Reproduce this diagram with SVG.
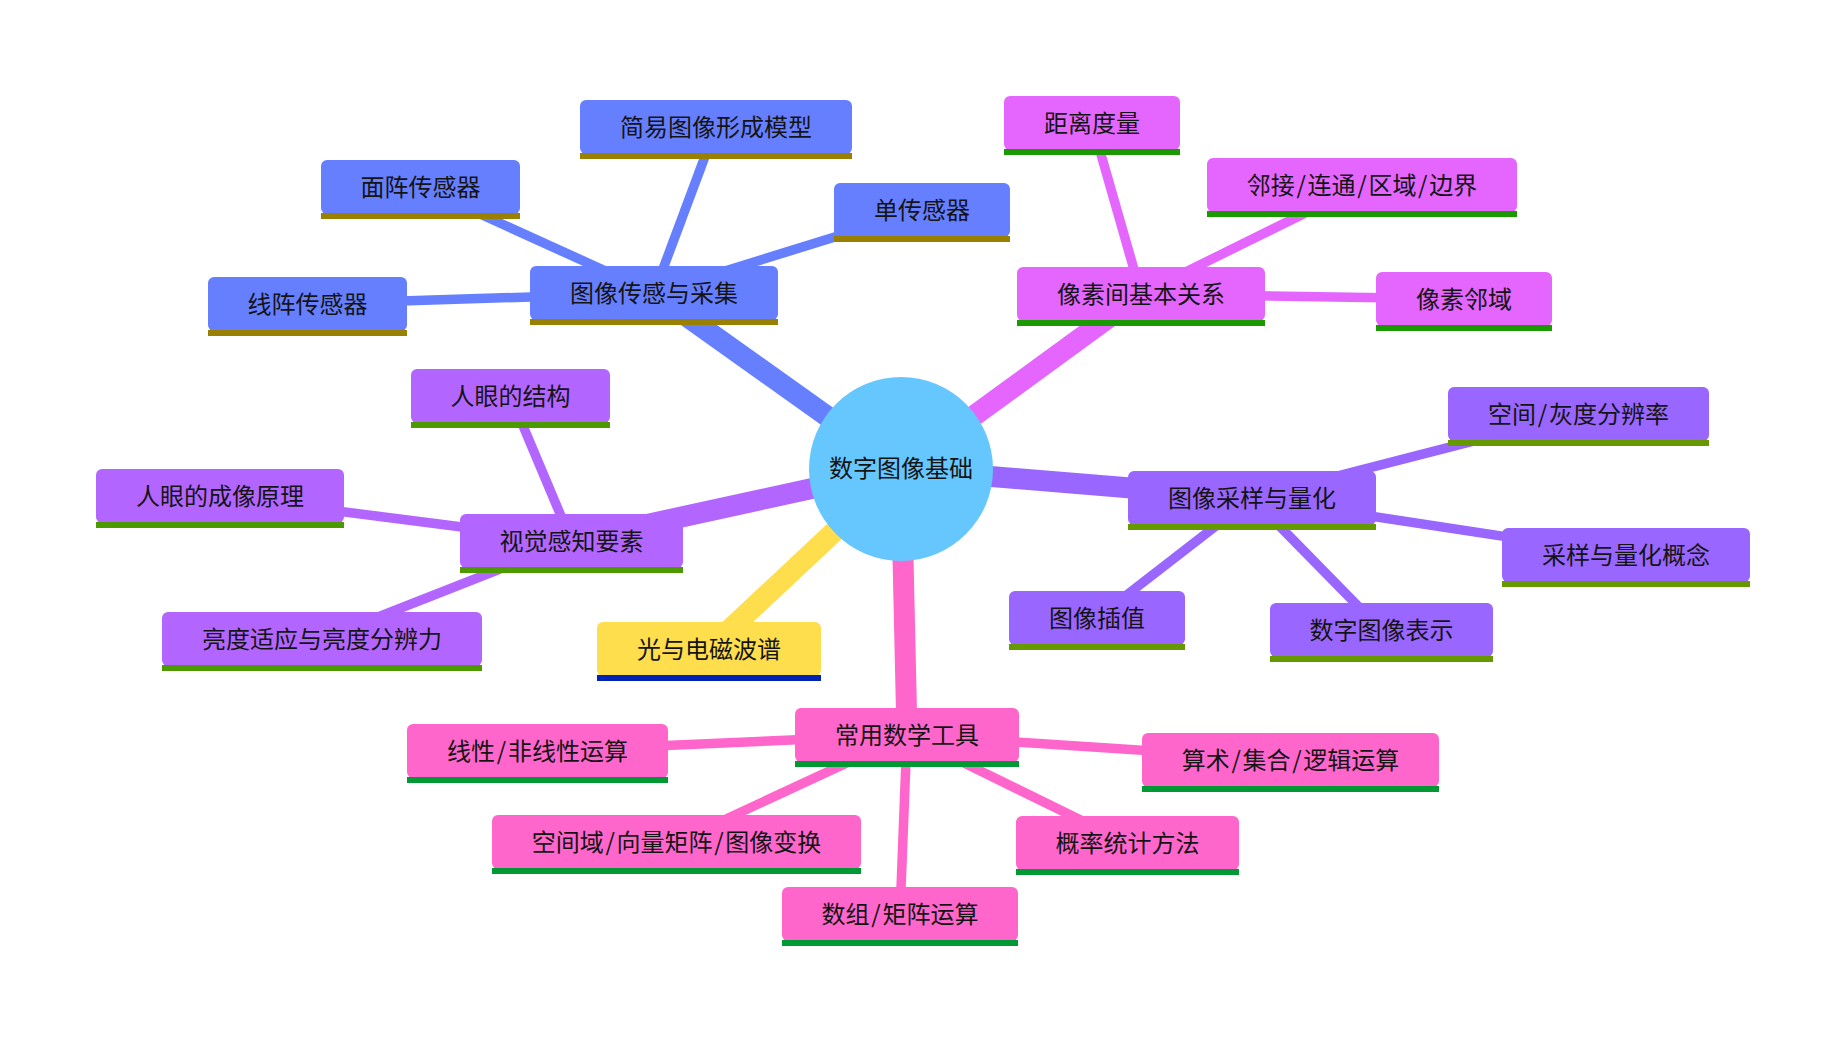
<svg xmlns="http://www.w3.org/2000/svg" width="1845" height="1039" viewBox="0 0 1845 1039">
<style>
text{font-family:"Noto Sans CJK SC","Noto Sans",sans-serif;font-size:24px;fill:#141414;text-anchor:middle;dominant-baseline:central}
.e0{stroke-width:21;stroke-linecap:butt;fill:none}
.e1{stroke-width:9.5;stroke-linecap:butt;fill:none}
.bl{fill:#667fff}.blb{fill:#998000}.bls{stroke:#667fff}
.mg{fill:#e566ff}.mgb{fill:#1a9900}.mgs{stroke:#e566ff}
.pu{fill:#9966ff}.pub{fill:#669900}.pus{stroke:#9966ff}
.vi{fill:#b366ff}.vib{fill:#4c9900}.vis{stroke:#b366ff}
.ye{fill:#ffde4d}.yeb{fill:#0022b2}.yes{stroke:#ffde4d}
.pk{fill:#ff66cc}.pkb{fill:#009933}.pks{stroke:#ff66cc}
</style>
<rect width="1845" height="1039" fill="#ffffff"/>
<g id="connectors">
<line class="e0 bls" x1="901" y1="469" x2="654" y2="293"/>
<line class="e0 mgs" x1="901" y1="469" x2="1141" y2="294"/>
<line class="e0 pus" x1="901" y1="469" x2="1252" y2="498"/>
<line class="e0 vis" x1="901" y1="469" x2="571.5" y2="541"/>
<line class="e0 yes" x1="901" y1="469" x2="709" y2="649"/>
<line class="e0 pks" x1="901" y1="469" x2="907" y2="735"/>
<line class="e1 bls" x1="654" y1="293" x2="716" y2="127"/>
<line class="e1 bls" x1="654" y1="293" x2="420.5" y2="187"/>
<line class="e1 bls" x1="654" y1="293" x2="922" y2="210"/>
<line class="e1 bls" x1="654" y1="293" x2="307.5" y2="304"/>
<line class="e1 mgs" x1="1141" y1="294" x2="1092" y2="123"/>
<line class="e1 mgs" x1="1141" y1="294" x2="1362" y2="185"/>
<line class="e1 mgs" x1="1141" y1="294" x2="1464" y2="299"/>
<line class="e1 pus" x1="1252" y1="498" x2="1578.5" y2="414"/>
<line class="e1 pus" x1="1252" y1="498" x2="1626" y2="555"/>
<line class="e1 pus" x1="1252" y1="498" x2="1097" y2="618"/>
<line class="e1 pus" x1="1252" y1="498" x2="1381.5" y2="630"/>
<line class="e1 vis" x1="571.5" y1="541" x2="510.5" y2="396"/>
<line class="e1 vis" x1="571.5" y1="541" x2="220" y2="496"/>
<line class="e1 vis" x1="571.5" y1="541" x2="322" y2="639"/>
<line class="e1 pks" x1="907" y1="735" x2="537.5" y2="751"/>
<line class="e1 pks" x1="907" y1="735" x2="1290.5" y2="760"/>
<line class="e1 pks" x1="907" y1="735" x2="676.5" y2="842"/>
<line class="e1 pks" x1="907" y1="735" x2="1127.5" y2="843"/>
<line class="e1 pks" x1="907" y1="735" x2="900" y2="914"/>
</g>
<g id="root">
<circle cx="901" cy="469" r="92" fill="#66c7ff"/>
<text x="901" y="466">数字图像基础</text>
</g>
<g id="n-sensing"><rect class="bl" x="530" y="266" width="248" height="54" rx="6"/><rect class="blb" x="530" y="319" width="248" height="6"/><text x="654" y="291">图像传感与采集</text></g>
<g id="n-model"><rect class="bl" x="580" y="100" width="272" height="54" rx="6"/><rect class="blb" x="580" y="153" width="272" height="6"/><text x="716" y="125">简易图像形成模型</text></g>
<g id="n-area"><rect class="bl" x="321" y="160" width="199" height="54" rx="6"/><rect class="blb" x="321" y="213" width="199" height="6"/><text x="420.5" y="185">面阵传感器</text></g>
<g id="n-single"><rect class="bl" x="834" y="183" width="176" height="54" rx="6"/><rect class="blb" x="834" y="236" width="176" height="6"/><text x="922" y="208">单传感器</text></g>
<g id="n-line"><rect class="bl" x="208" y="277" width="199" height="54" rx="6"/><rect class="blb" x="208" y="330" width="199" height="6"/><text x="307.5" y="302">线阵传感器</text></g>
<g id="n-pixel"><rect class="mg" x="1017" y="267" width="248" height="54" rx="6"/><rect class="mgb" x="1017" y="320" width="248" height="6"/><text x="1141" y="292">像素间基本关系</text></g>
<g id="n-dist"><rect class="mg" x="1004" y="96" width="176" height="54" rx="6"/><rect class="mgb" x="1004" y="149" width="176" height="6"/><text x="1092" y="121">距离度量</text></g>
<g id="n-adj"><rect class="mg" x="1207" y="158" width="310" height="54" rx="6"/><rect class="mgb" x="1207" y="211" width="310" height="6"/><text x="1362" y="183">邻接<tspan dx="1.7">/</tspan><tspan dx="1.7">连通</tspan><tspan dx="1.7">/</tspan><tspan dx="1.7">区域</tspan><tspan dx="1.7">/</tspan><tspan dx="1.7">边界</tspan></text></g>
<g id="n-neigh"><rect class="mg" x="1376" y="272" width="176" height="54" rx="6"/><rect class="mgb" x="1376" y="325" width="176" height="6"/><text x="1464" y="297">像素邻域</text></g>
<g id="n-sample"><rect class="pu" x="1128" y="471" width="248" height="54" rx="6"/><rect class="pub" x="1128" y="524" width="248" height="6"/><text x="1252" y="496">图像采样与量化</text></g>
<g id="n-res"><rect class="pu" x="1448" y="387" width="261" height="54" rx="6"/><rect class="pub" x="1448" y="440" width="261" height="6"/><text x="1578.5" y="412">空间<tspan dx="1.7">/</tspan><tspan dx="1.7">灰度分辨率</tspan></text></g>
<g id="n-concept"><rect class="pu" x="1502" y="528" width="248" height="54" rx="6"/><rect class="pub" x="1502" y="581" width="248" height="6"/><text x="1626" y="553">采样与量化概念</text></g>
<g id="n-interp"><rect class="pu" x="1009" y="591" width="176" height="54" rx="6"/><rect class="pub" x="1009" y="644" width="176" height="6"/><text x="1097" y="616">图像插值</text></g>
<g id="n-repr"><rect class="pu" x="1270" y="603" width="223" height="54" rx="6"/><rect class="pub" x="1270" y="656" width="223" height="6"/><text x="1381.5" y="628">数字图像表示</text></g>
<g id="n-visual"><rect class="vi" x="460" y="514" width="223" height="54" rx="6"/><rect class="vib" x="460" y="567" width="223" height="6"/><text x="571.5" y="539">视觉感知要素</text></g>
<g id="n-eye"><rect class="vi" x="411" y="369" width="199" height="54" rx="6"/><rect class="vib" x="411" y="422" width="199" height="6"/><text x="510.5" y="394">人眼的结构</text></g>
<g id="n-imaging"><rect class="vi" x="96" y="469" width="248" height="54" rx="6"/><rect class="vib" x="96" y="522" width="248" height="6"/><text x="220" y="494">人眼的成像原理</text></g>
<g id="n-bright"><rect class="vi" x="162" y="612" width="320" height="54" rx="6"/><rect class="vib" x="162" y="665" width="320" height="6"/><text x="322" y="637">亮度适应与亮度分辨力</text></g>
<g id="n-light"><rect class="ye" x="597" y="622" width="224" height="54" rx="6"/><rect class="yeb" x="597" y="675" width="224" height="6"/><text x="709" y="647">光与电磁波谱</text></g>
<g id="n-math"><rect class="pk" x="795" y="708" width="224" height="54" rx="6"/><rect class="pkb" x="795" y="761" width="224" height="6"/><text x="907" y="733">常用数学工具</text></g>
<g id="n-linear"><rect class="pk" x="407" y="724" width="261" height="54" rx="6"/><rect class="pkb" x="407" y="777" width="261" height="6"/><text x="537.5" y="749">线性<tspan dx="1.7">/</tspan><tspan dx="1.7">非线性运算</tspan></text></g>
<g id="n-arith"><rect class="pk" x="1142" y="733" width="297" height="54" rx="6"/><rect class="pkb" x="1142" y="786" width="297" height="6"/><text x="1290.5" y="758">算术<tspan dx="1.7">/</tspan><tspan dx="1.7">集合</tspan><tspan dx="1.7">/</tspan><tspan dx="1.7">逻辑运算</tspan></text></g>
<g id="n-spatial"><rect class="pk" x="492" y="815" width="369" height="54" rx="6"/><rect class="pkb" x="492" y="868" width="369" height="6"/><text x="676.5" y="840">空间域<tspan dx="1.7">/</tspan><tspan dx="1.7">向量矩阵</tspan><tspan dx="1.7">/</tspan><tspan dx="1.7">图像变换</tspan></text></g>
<g id="n-prob"><rect class="pk" x="1016" y="816" width="223" height="54" rx="6"/><rect class="pkb" x="1016" y="869" width="223" height="6"/><text x="1127.5" y="841">概率统计方法</text></g>
<g id="n-array"><rect class="pk" x="782" y="887" width="236" height="54" rx="6"/><rect class="pkb" x="782" y="940" width="236" height="6"/><text x="900" y="912">数组<tspan dx="1.7">/</tspan><tspan dx="1.7">矩阵运算</tspan></text></g>
</svg>
